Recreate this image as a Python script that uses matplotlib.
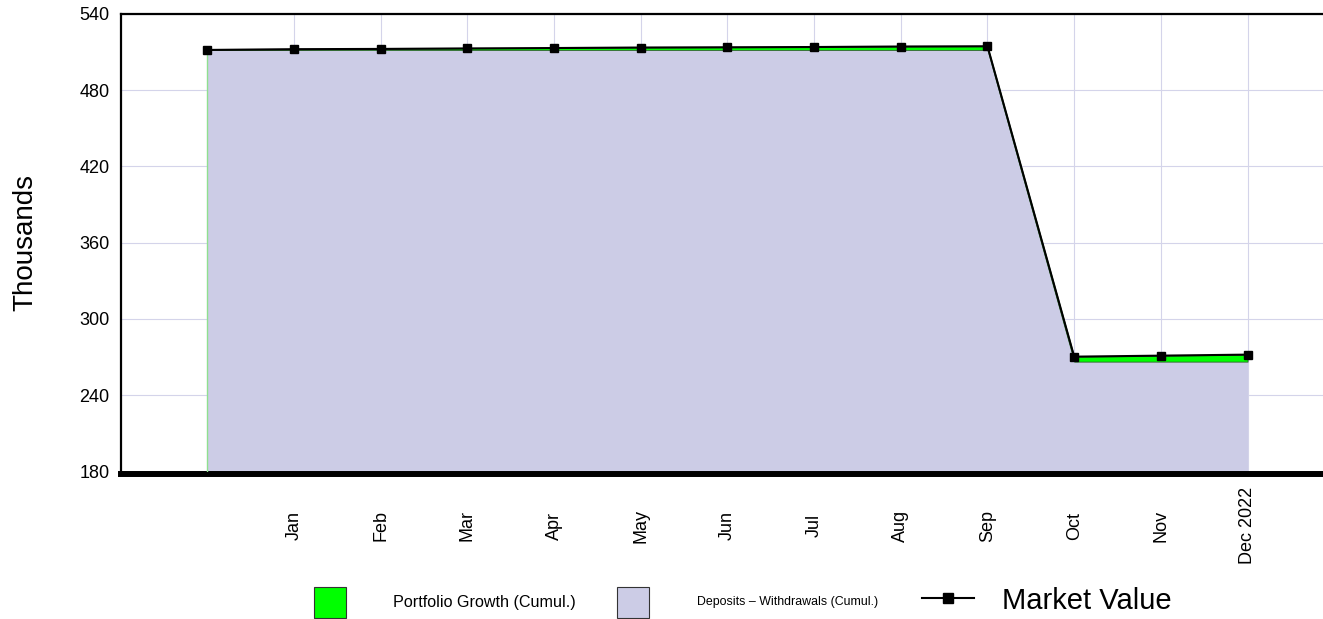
import numpy as np
import matplotlib
matplotlib.use('Agg')
import matplotlib.pyplot as plt
from matplotlib.patches import Rectangle
from matplotlib.lines import Line2D

plt.rcParams['font.family'] = ['Liberation Sans', 'DejaVu Sans']

# 数据 (千)
labels = ['', 'Jan', 'Feb', 'Mar', 'Apr', 'May', 'Jun', 'Jul', 'Aug', 'Sep',
          'Oct', 'Nov', 'Dec 2022']
deposits = [511.5, 511.5, 511.5, 511.5, 511.5, 511.5, 511.5, 511.5, 511.5,
            511.5, 266.4, 266.4, 266.4]
market = [511.5, 512.1, 512.3, 512.7, 513.0, 513.4, 513.6, 513.8, 514.2,
          514.4, 270.3, 271.1, 271.9]
yticks = [180, 240, 300, 360, 420, 480, 540]

W, H = 1323, 619
fig = plt.figure(figsize=(W / 100, H / 100), dpi=100)
ax = fig.add_axes([120.5 / W, (H - 471.5) / H, (W - 120.5) / W, (471.5 - 13.7) / H])

# 边框 (先设置, set_position 会重置刻度)
ax.spines['right'].set_visible(False)
ax.spines['left'].set_linewidth(1.6)
ax.spines['top'].set_linewidth(1.6)
ax.spines['bottom'].set_linewidth(4.3)
ax.spines['bottom'].set_position(('outward', 2))

x = np.arange(len(labels))
lav = '#CCCCE6'
ax.fill_between(x, 180, deposits, color=lav, lw=0, zorder=2)
ax.fill_between(x, deposits, market, color='#00FF00', lw=0.6,
                edgecolor='#2d5f2d', zorder=3)
ax.axvline(x[0], ymin=0, ymax=(deposits[0] - 180) / 360, color='#8fe08f',
           lw=1.0, zorder=3)
ax.plot(x, market, color='black', lw=1.5, marker='s', ms=5.8, zorder=4)

ax.set_xlim(-1, 12.87)
ax.set_ylim(180, 540)
ax.set_yticks(yticks)
ax.tick_params(axis='x', length=0, pad=37, labelsize=13)
ax.tick_params(axis='y', length=0, pad=8, labelsize=13)
ax.set_xticks(x[1:])
ax.set_xticklabels(labels[1:], rotation=90, rotation_mode='anchor',
                   ha='center', va='center')

ax.set_axisbelow(True)
ax.grid(True, color='#D4D4EA', lw=0.8)

fig.text(25 / W, 1 - 242.5 / H, 'Thousands', rotation=90, fontsize=20,
         ha='center', va='center')

# 图例
def box(x0, color):
    fig.add_artist(Rectangle((x0 / W, 1 - 618 / H), 32 / W, 31 / H,
                             transform=fig.transFigure, facecolor=color,
                             edgecolor='#333333', lw=0.8))

box(314, '#00FF00')
box(617, lav)
fig.text(393 / W, 1 - 602 / H, 'Portfolio Growth (Cumul.)',
         fontsize=11.6, va='center', ha='left')
fig.text(697 / W, 1 - 602 / H, 'Deposits \u2013 Withdrawals (Cumul.)',
         fontsize=8.9, va='center', ha='left')
fig.add_artist(Line2D([922 / W, 974 / W], [1 - 598 / H, 1 - 598 / H],
                      transform=fig.transFigure, color='black', lw=1.5))
fig.add_artist(Line2D([948 / W], [1 - 598 / H], transform=fig.transFigure,
                      color='black', marker='s', ms=7.2))
fig.text(1002 / W, 1 - 601 / H, 'Market Value', fontsize=21, va='center', ha='left')

fig.savefig('out.png', dpi=100)
